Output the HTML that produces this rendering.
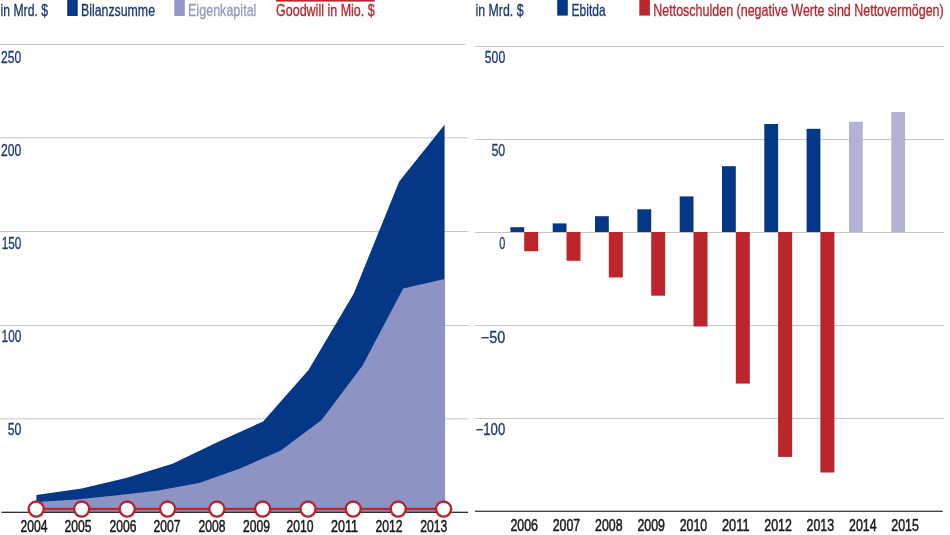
<!DOCTYPE html>
<html lang="de"><head><meta charset="utf-8"><title>Bilanzsumme, Eigenkapital, Ebitda, Nettoschulden</title>
<style>html,body{margin:0;padding:0;background:#fff;}body{width:950px;height:535px;overflow:hidden;}svg{display:block;}text{font-family:"Liberation Sans",sans-serif;}</style>
</head><body>
<svg width="950" height="535" viewBox="0 0 950 535">
<rect width="950" height="535" fill="#fff"/>
<rect x="0" y="44" width="465.4" height="1" fill="#c6c6c6"/>
<rect x="0" y="137.3" width="468.2" height="1" fill="#c6c6c6"/>
<rect x="0" y="231" width="468.4" height="1" fill="#c6c6c6"/>
<rect x="0" y="325" width="468.6" height="1" fill="#c6c6c6"/>
<rect x="0" y="418.3" width="468.2" height="1" fill="#c6c6c6"/>
<text x="21.4" y="62.8" font-size="16" fill="#1b3873" stroke="#1b3873" stroke-width="0.3" text-anchor="end" textLength="20.3" lengthAdjust="spacingAndGlyphs">250</text>
<text x="21.4" y="155.9" font-size="16" fill="#1b3873" stroke="#1b3873" stroke-width="0.3" text-anchor="end" textLength="20.3" lengthAdjust="spacingAndGlyphs">200</text>
<text x="21.4" y="249" font-size="16" fill="#1b3873" stroke="#1b3873" stroke-width="0.3" text-anchor="end" textLength="19.6" lengthAdjust="spacingAndGlyphs">150</text>
<text x="21.4" y="342" font-size="16" fill="#1b3873" stroke="#1b3873" stroke-width="0.3" text-anchor="end" textLength="19.8" lengthAdjust="spacingAndGlyphs">100</text>
<text x="21.4" y="435.1" font-size="16" fill="#1b3873" stroke="#1b3873" stroke-width="0.3" text-anchor="end" textLength="13.6" lengthAdjust="spacingAndGlyphs">50</text>
<polygon fill="#043886" points="36.4,512 36.4,495.0 81.8,488.6 127.1,477.8 172.5,463.8 217.8,442.0 263.1,421.4 308.5,370.1 353.8,293.4 399.2,181.5 444.6,124.7 444.6,512"/>
<polygon fill="#8d93c3" points="36.4,512 36.4,501.9 76.7,499.4 117.5,495.3 158.3,490.5 199.1,483.0 240.0,468.5 280.8,450.4 321.6,419.9 362.4,365.8 403.2,288.6 444.5,278.9 445.1,278.9 445.1,512"/>
<rect x="1.5" y="511.7" width="466.5" height="1.2" fill="#1a1a1a"/>
<rect x="36" y="507.8" width="407.5" height="2.3" fill="#bb252b"/>
<circle cx="36.2" cy="509.1" r="7.55" fill="#fff" stroke="#b7232e" stroke-width="2.4"/>
<circle cx="81.7" cy="509.1" r="7.55" fill="#fff" stroke="#b7232e" stroke-width="2.4"/>
<circle cx="127.2" cy="509.1" r="7.55" fill="#fff" stroke="#b7232e" stroke-width="2.4"/>
<circle cx="167.6" cy="509.1" r="7.55" fill="#fff" stroke="#b7232e" stroke-width="2.4"/>
<circle cx="216.9" cy="509.1" r="7.55" fill="#fff" stroke="#b7232e" stroke-width="2.4"/>
<circle cx="262.7" cy="509.1" r="7.55" fill="#fff" stroke="#b7232e" stroke-width="2.4"/>
<circle cx="308" cy="509.1" r="7.55" fill="#fff" stroke="#b7232e" stroke-width="2.4"/>
<circle cx="353.2" cy="509.1" r="7.55" fill="#fff" stroke="#b7232e" stroke-width="2.4"/>
<circle cx="398.2" cy="509.1" r="7.55" fill="#fff" stroke="#b7232e" stroke-width="2.4"/>
<circle cx="443.6" cy="509.1" r="7.55" fill="#fff" stroke="#b7232e" stroke-width="2.4"/>
<text x="20.5" y="531.6" font-size="16.5" fill="#1a1a1a" stroke="#1a1a1a" stroke-width="0.5" text-anchor="start" textLength="27" lengthAdjust="spacingAndGlyphs">2004</text>
<text x="64.5" y="531.6" font-size="16.5" fill="#1a1a1a" stroke="#1a1a1a" stroke-width="0.5" text-anchor="start" textLength="27" lengthAdjust="spacingAndGlyphs">2005</text>
<text x="109.4" y="531.6" font-size="16.5" fill="#1a1a1a" stroke="#1a1a1a" stroke-width="0.5" text-anchor="start" textLength="27" lengthAdjust="spacingAndGlyphs">2006</text>
<text x="153.6" y="531.6" font-size="16.5" fill="#1a1a1a" stroke="#1a1a1a" stroke-width="0.5" text-anchor="start" textLength="27" lengthAdjust="spacingAndGlyphs">2007</text>
<text x="198.5" y="531.6" font-size="16.5" fill="#1a1a1a" stroke="#1a1a1a" stroke-width="0.5" text-anchor="start" textLength="27" lengthAdjust="spacingAndGlyphs">2008</text>
<text x="242.89999999999998" y="531.6" font-size="16.5" fill="#1a1a1a" stroke="#1a1a1a" stroke-width="0.5" text-anchor="start" textLength="27" lengthAdjust="spacingAndGlyphs">2009</text>
<text x="286.5" y="531.6" font-size="16.5" fill="#1a1a1a" stroke="#1a1a1a" stroke-width="0.5" text-anchor="start" textLength="27" lengthAdjust="spacingAndGlyphs">2010</text>
<text x="331.0" y="531.6" font-size="16.5" fill="#1a1a1a" stroke="#1a1a1a" stroke-width="0.5" text-anchor="start" textLength="27" lengthAdjust="spacingAndGlyphs">2011</text>
<text x="375.5" y="531.6" font-size="16.5" fill="#1a1a1a" stroke="#1a1a1a" stroke-width="0.5" text-anchor="start" textLength="27" lengthAdjust="spacingAndGlyphs">2012</text>
<text x="420.2" y="531.6" font-size="16.5" fill="#1a1a1a" stroke="#1a1a1a" stroke-width="0.5" text-anchor="start" textLength="27" lengthAdjust="spacingAndGlyphs">2013</text>
<text x="0.6" y="15.8" font-size="16" fill="#1b3873" stroke="#1b3873" stroke-width="0.3" text-anchor="start" textLength="47.4" lengthAdjust="spacingAndGlyphs">in Mrd. $</text>
<rect x="67.2" y="0" width="10.5" height="16" fill="#043886"/>
<text x="81" y="15.8" font-size="16" fill="#1b3873" stroke="#1b3873" stroke-width="0.3" text-anchor="start" textLength="74" lengthAdjust="spacingAndGlyphs">Bilanzsumme</text>
<rect x="174.3" y="0" width="10.5" height="16" fill="#9498c6"/>
<text x="188" y="15.8" font-size="16" fill="#9498c6" stroke="#9498c6" stroke-width="0.3" text-anchor="start" textLength="68.4" lengthAdjust="spacingAndGlyphs">Eigenkapital</text>
<rect x="276" y="0" width="98.7" height="1.6" fill="#bb252b"/>
<text x="276" y="15.8" font-size="16" fill="#b8242c" stroke="#b8242c" stroke-width="0.3" text-anchor="start" textLength="98.7" lengthAdjust="spacingAndGlyphs">Goodwill in Mio. $</text>
<rect x="475" y="46" width="469" height="1" fill="#c6c6c6"/>
<rect x="475" y="139" width="469" height="1" fill="#c6c6c6"/>
<rect x="475" y="232" width="469" height="1" fill="#c6c6c6"/>
<rect x="475" y="325" width="469" height="1" fill="#c6c6c6"/>
<rect x="475" y="418" width="469" height="1" fill="#c6c6c6"/>
<rect x="475" y="510.7" width="467.8" height="1.1" fill="#1a1a1a"/>
<text x="505.2" y="63" font-size="16" fill="#1b3873" stroke="#1b3873" stroke-width="0.3" text-anchor="end" textLength="20.4" lengthAdjust="spacingAndGlyphs">500</text>
<text x="505.2" y="156.3" font-size="16" fill="#1b3873" stroke="#1b3873" stroke-width="0.3" text-anchor="end" textLength="13.8" lengthAdjust="spacingAndGlyphs">50</text>
<text x="505.2" y="249.2" font-size="16" fill="#1b3873" stroke="#1b3873" stroke-width="0.3" text-anchor="end" textLength="6" lengthAdjust="spacingAndGlyphs">0</text>
<text x="505.2" y="342.5" font-size="16" fill="#1b3873" stroke="#1b3873" stroke-width="0.3" text-anchor="end" textLength="24.4" lengthAdjust="spacingAndGlyphs">−50</text>
<text x="505.2" y="435" font-size="16" fill="#1b3873" stroke="#1b3873" stroke-width="0.3" text-anchor="end" textLength="29.5" lengthAdjust="spacingAndGlyphs">−100</text>
<rect x="510.4" y="227.2" width="13.8" height="4.8" fill="#043886"/>
<rect x="552.7" y="223.4" width="13.8" height="8.6" fill="#043886"/>
<rect x="595.0" y="216.2" width="13.8" height="15.8" fill="#043886"/>
<rect x="637.4" y="209.3" width="13.8" height="22.7" fill="#043886"/>
<rect x="679.7" y="196.4" width="13.8" height="35.6" fill="#043886"/>
<rect x="722.0" y="166.2" width="13.8" height="65.8" fill="#043886"/>
<rect x="764.3" y="124.0" width="13.8" height="108.0" fill="#043886"/>
<rect x="806.6" y="128.8" width="13.8" height="103.2" fill="#043886"/>
<rect x="849.0" y="121.8" width="13.8" height="110.2" fill="#b3b2d4"/>
<rect x="891.3" y="112.0" width="13.8" height="120.0" fill="#b3b2d4"/>
<rect x="524.2" y="232.0" width="14" height="19.2" fill="#bb252b"/>
<rect x="566.5" y="232.0" width="14" height="28.8" fill="#bb252b"/>
<rect x="608.8" y="232.0" width="14" height="45.5" fill="#bb252b"/>
<rect x="651.2" y="232.0" width="14" height="63.7" fill="#bb252b"/>
<rect x="693.5" y="232.0" width="14" height="94.5" fill="#bb252b"/>
<rect x="735.8" y="232.0" width="14" height="151.6" fill="#bb252b"/>
<rect x="778.1" y="232.0" width="14" height="224.9" fill="#bb252b"/>
<rect x="820.4" y="232.0" width="14" height="240.5" fill="#bb252b"/>
<text x="510.4" y="530.6" font-size="16" fill="#1a1a1a" stroke="#1a1a1a" stroke-width="0.5" text-anchor="start" textLength="27.5" lengthAdjust="spacingAndGlyphs">2006</text>
<text x="552.7" y="530.6" font-size="16" fill="#1a1a1a" stroke="#1a1a1a" stroke-width="0.5" text-anchor="start" textLength="27.5" lengthAdjust="spacingAndGlyphs">2007</text>
<text x="595.0" y="530.6" font-size="16" fill="#1a1a1a" stroke="#1a1a1a" stroke-width="0.5" text-anchor="start" textLength="27.5" lengthAdjust="spacingAndGlyphs">2008</text>
<text x="637.4" y="530.6" font-size="16" fill="#1a1a1a" stroke="#1a1a1a" stroke-width="0.5" text-anchor="start" textLength="27.5" lengthAdjust="spacingAndGlyphs">2009</text>
<text x="679.7" y="530.6" font-size="16" fill="#1a1a1a" stroke="#1a1a1a" stroke-width="0.5" text-anchor="start" textLength="27.5" lengthAdjust="spacingAndGlyphs">2010</text>
<text x="722.0" y="530.6" font-size="16" fill="#1a1a1a" stroke="#1a1a1a" stroke-width="0.5" text-anchor="start" textLength="27.5" lengthAdjust="spacingAndGlyphs">2011</text>
<text x="764.3" y="530.6" font-size="16" fill="#1a1a1a" stroke="#1a1a1a" stroke-width="0.5" text-anchor="start" textLength="27.5" lengthAdjust="spacingAndGlyphs">2012</text>
<text x="806.6" y="530.6" font-size="16" fill="#1a1a1a" stroke="#1a1a1a" stroke-width="0.5" text-anchor="start" textLength="27.5" lengthAdjust="spacingAndGlyphs">2013</text>
<text x="849.0" y="530.6" font-size="16" fill="#1a1a1a" stroke="#1a1a1a" stroke-width="0.5" text-anchor="start" textLength="27.5" lengthAdjust="spacingAndGlyphs">2014</text>
<text x="891.3" y="530.6" font-size="16" fill="#1a1a1a" stroke="#1a1a1a" stroke-width="0.5" text-anchor="start" textLength="27.5" lengthAdjust="spacingAndGlyphs">2015</text>
<text x="475.6" y="15.5" font-size="16.5" fill="#1b3873" stroke="#1b3873" stroke-width="0.3" text-anchor="start" textLength="47.9" lengthAdjust="spacingAndGlyphs">in Mrd. $</text>
<rect x="557.2" y="0" width="10.6" height="15.6" fill="#043886"/>
<text x="571.5" y="15.5" font-size="16.5" fill="#1b3873" stroke="#1b3873" stroke-width="0.3" text-anchor="start" textLength="34.2" lengthAdjust="spacingAndGlyphs">Ebitda</text>
<rect x="639.3" y="0" width="10.6" height="15.6" fill="#bb252b"/>
<text x="653.3" y="15.5" font-size="16.5" fill="#b8242c" stroke="#b8242c" stroke-width="0.3" text-anchor="start" textLength="290.4" lengthAdjust="spacingAndGlyphs">Nettoschulden (negative Werte sind Nettovermögen)</text>
</svg>
</body></html>
